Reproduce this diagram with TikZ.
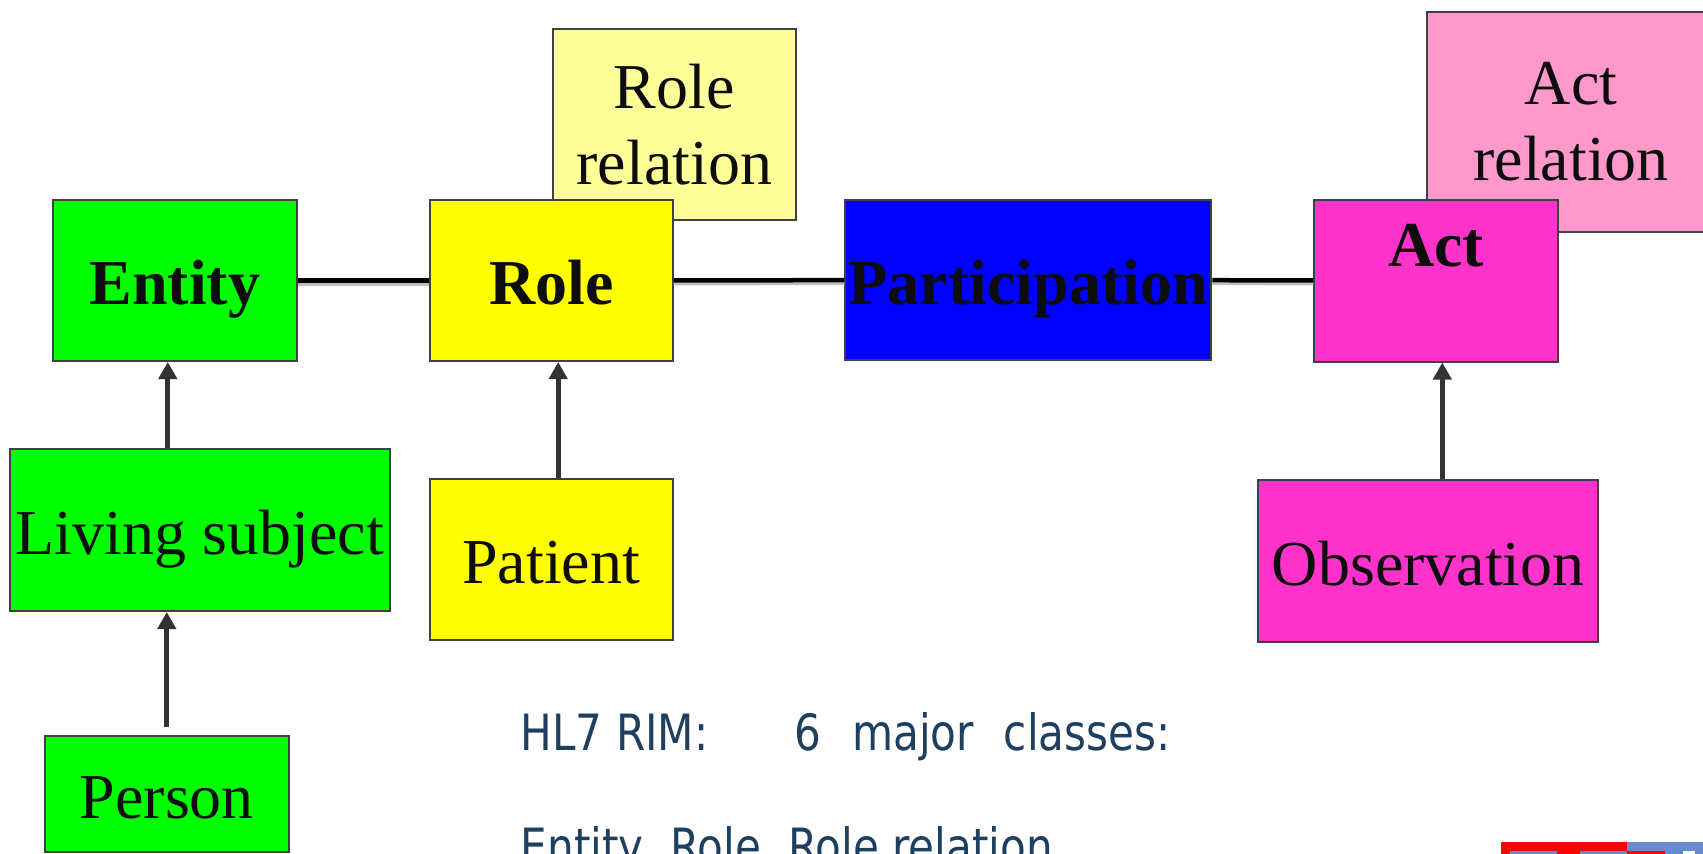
\documentclass[tikz,border=0pt]{standalone}
\usepackage{fontspec}
\usepackage{xcolor}
\usetikzlibrary{arrows.meta}
\newfontfamily\rimserif{Liberation Serif}
\newfontfamily\rimsans[FakeStretch=0.843]{DejaVu Sans}
\definecolor{entgreen}{HTML}{00FF00}
\definecolor{rolyellow}{HTML}{FFFF00}
\definecolor{relyellow}{HTML}{FFFF99}
\definecolor{partblue}{HTML}{0000FF}
\definecolor{actmagenta}{HTML}{FF33CC}
\definecolor{relpink}{HTML}{FF99CC}
\definecolor{rahmen}{HTML}{404040}
\definecolor{pfeilgrau}{HTML}{333333}
\definecolor{textblau}{HTML}{1F3F60}
\definecolor{logorot}{HTML}{FF0000}
\definecolor{logoblau}{HTML}{6A8AD0}

\begin{document}
\begin{tikzpicture}
				[
				x=1pt, y=-1pt, >={Triangle[width=18pt,length=17pt]},
				%Voreinstellungen
				klasse/.style={draw=rahmen, line width=2pt, inner sep=2pt, text=black!95, font=\rimserif\fontsize{64}{76}\selectfont},
				zeile/.style={text height=62pt, text depth=14pt},
				verbindung/.style={line width=4.5pt, black},
				schatten/.style={line width=4pt, black!25},
				ableitung/.style={->, line width=5pt, pfeilgrau}
				]
				\fill[white] (0,0) rectangle (1703,854);
				\useasboundingbox (0,0) rectangle (1703,854);
				%Beziehungen (hinten)
				\node[klasse, fill=relyellow, minimum width=243pt, minimum height=191pt, align=center] (rolerel) at (674.4,124.6) {Role\\relation};
				\node[klasse, fill=relpink, minimum width=289pt, minimum height=220pt, align=center] (actrel) at (1571,122) {Act\\relation};
				%Hauptklassen
				\node[klasse, zeile, fill=entgreen, minimum width=244pt, minimum height=161pt] (entity) at (174.8,280.5) {\bfseries Entity};
				\node[klasse, zeile, fill=rolyellow, minimum width=243pt, minimum height=161pt] (role) at (551.2,280.5) {\bfseries Role};
				\node[klasse, zeile, fill=partblue, minimum width=366pt, minimum height=160pt] (part) at (1028.4,280) {\bfseries Participation};
				\node[klasse, zeile, text depth=91pt, fill=actmagenta, minimum width=244pt, minimum height=162pt] (act) at (1436.3,280.5) {\bfseries Act};
				%Spezialisierungen
				\node[klasse, zeile, fill=entgreen, minimum width=380pt, minimum height=162pt] (living) at (199.8,530) {Living subject};
				\node[klasse, zeile, fill=entgreen, minimum width=244pt, minimum height=116pt] (person) at (166.8,794) {Person};
				\node[klasse, zeile, fill=rolyellow, minimum width=243pt, minimum height=161pt] (patient) at (551.2,559.5) {Patient};
				\node[klasse, zeile, fill=actmagenta, minimum width=340pt, minimum height=162pt] (obs) at (1428.3,561) {Observation};
				%Verbindungen
				\foreach \a/\b in {entity/role, role/part, part/act}
				{
					\draw[schatten] ([yshift=-3pt]\a.east) -- ([yshift=-3pt]\b.west);
					\draw[verbindung] (\a) -- (\b);
				}
				%Pfeile
				\coordinate (entfuss) at ([xshift=-7pt]entity.south);
				\coordinate (rolfuss) at ([xshift=7pt]role.south);
				\coordinate (actfuss) at ([xshift=6pt]act.south);
				\coordinate (personkopf) at ([yshift=8pt]person.north);
				\draw[ableitung] (entfuss |- living.north) -- (entfuss);
				\draw[ableitung] (personkopf) -- (personkopf |- living.south);
				\draw[ableitung] (rolfuss |- patient.north) -- (rolfuss);
				\draw[ableitung] (actfuss |- obs.north) -- (actfuss);
				%Text unten
				\node[anchor=base west, inner sep=0pt, text=textblau, font=\rimsans\fontsize{50}{60}\selectfont] (titel) at (520.5,750) {HL7 RIM:\hspace{86pt}6\hspace{31pt}major\hspace{30pt}classes:};
				\node[anchor=base west, inner sep=0pt, text=textblau, font=\rimsans\fontsize{50}{60}\selectfont] (klassen) at (520.5,864.5) {Entity, Role, Role relation};
				%Logo (angeschnitten)
				\fill[logorot] (1501,842) rectangle (1627,854);
				\fill[logoblau] (1627,842) rectangle (1703,854);
				\fill[logoblau] (1510,851) rectangle (1557,854);
				\fill[logoblau] (1580,851) rectangle (1627,854);
				\fill[logorot] (1627,851) rectangle (1665,854);
				\fill[white] (1683,851) rectangle (1695,854);
			\end{tikzpicture}
\end{document}
